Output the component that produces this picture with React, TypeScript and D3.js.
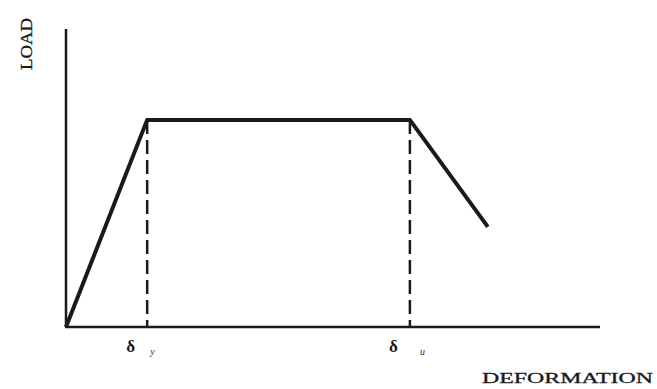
import React from "react";
import * as d3 from "d3";

// Idealized load–deformation curve (normalized units, 0–100)
const deformation = [0, 15.2, 64.4, 79.0];
const load = [0, 69.5, 69.5, 33.6];
const markerDeformation = [15.2, 64.4];
const markerLabels = ["y", "u"];
const xLabel = "DEFORMATION";
const yLabel = "LOAD";

const W = 657;
const H = 389;

export default function App() {
  const x = d3.scaleLinear().domain([0, 100]).range([66, 600]);
  const y = d3.scaleLinear().domain([0, 100]).range([327, 29]);
  const pts: [number, number][] = deformation.map((d, i) => [d, load[i]]);
  const line = d3
    .line<[number, number]>()
    .x((d) => x(d[0]))
    .y((d) => y(d[1]));
  const font = "'Liberation Serif', 'DejaVu Serif', serif";
  const peak = load[1];
  return (
    <svg
      width={W}
      height={H}
      style={{ position: "absolute", left: 0, top: 0, background: "#fff" }}
    >
      {/* axes */}
      <line x1={x(0)} y1={y(0)} x2={x(0)} y2={y(100)} stroke="#1a1a1a" strokeWidth={2.5} />
      <line x1={x(0) - 1} y1={y(0)} x2={x(100)} y2={y(0)} stroke="#1a1a1a" strokeWidth={2.5} />
      {/* dashed markers */}
      {markerDeformation.map((d, i) => (
        <line
          key={i}
          x1={x(d)}
          y1={y(peak)}
          x2={x(d)}
          y2={y(0)}
          stroke="#1a1a1a"
          strokeWidth={2.5}
          strokeDasharray="14,6"
        />
      ))}
      {/* curve */}
      <path
        d={line(pts) || ""}
        fill="none"
        stroke="#1a1a1a"
        strokeWidth={4}
        strokeLinejoin="miter"
        strokeLinecap="butt"
      />
      {/* marker labels */}
      {markerDeformation.map((d, i) => (
        <g key={i} fontFamily={font} fill="#1a1a1a">
          <text x={x(d) - 21} y={352} fontSize={17} fontWeight="bold">
            δ
          </text>
          <text x={x(d) + (i === 0 ? 3 : 10)} y={355} fontSize={10} fontStyle="italic" fill="#333">
            {markerLabels[i]}
          </text>
        </g>
      ))}
      {/* axis labels */}
      <text
        x={482}
        y={383}
        fontFamily={font}
        fontSize={15}
        fill="#1a1a1a"
        stroke="#1a1a1a"
        strokeWidth={0.3}
        textLength={171}
        lengthAdjust="spacingAndGlyphs"
      >
        {xLabel}
      </text>
      <text
        transform="translate(32,44) rotate(-90)"
        textAnchor="middle"
        fontFamily={font}
        fontSize={16}
        fill="#1a1a1a"
        stroke="#1a1a1a"
        strokeWidth={0.3}
        textLength={52}
        lengthAdjust="spacingAndGlyphs"
      >
        {yLabel}
      </text>
    </svg>
  );
}
